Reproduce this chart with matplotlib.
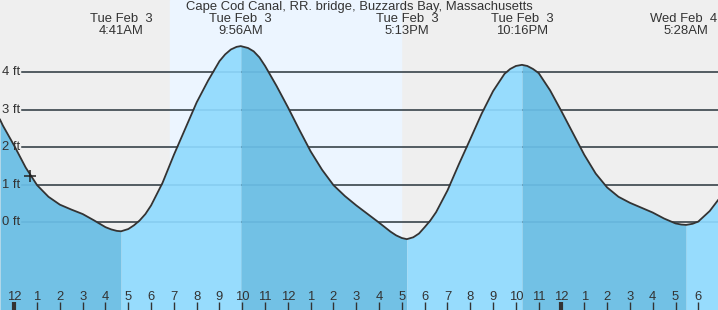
import numpy as np
import matplotlib.pyplot as plt

plt.rcParams['font.family'] = ['Liberation Sans', 'DejaVu Sans']

title = 'Cape Cod Canal, RR. bridge, Buzzards Bay, Massachusetts'

# tide height (ft), hours since midnight Tue Feb 3
tide_hours = [-0.627, -0.5, 0.0, 0.5, 1.0, 1.5, 2.0, 2.5, 3.0, 3.5, 4.0, 4.25, 4.5, 4.683,
              5.0, 5.25, 5.5, 5.75, 6.0, 6.5, 7.0, 7.5, 8.0, 8.5, 9.0, 9.25, 9.5, 9.75, 9.933,
              10.25, 10.5, 10.75, 11.0, 11.5, 12.0, 12.5, 13.0, 13.5, 14.0, 14.5, 15.0, 15.5,
              16.0, 16.5, 16.75, 17.0, 17.217,
              17.5, 17.75, 18.0, 18.25, 18.5, 19.0, 19.5, 20.0, 20.5, 21.0, 21.5, 21.75, 22.0,
              22.267,
              22.5, 22.75, 23.0, 23.5, 24.0, 24.5, 25.0, 25.5, 26.0, 26.5, 27.0, 27.5, 28.0,
              28.5, 29.0, 29.25, 29.467,
              29.75, 30.0, 30.5, 30.864]
tide_ft = [2.74, 2.58, 2.04, 1.46, 0.99, 0.68, 0.47, 0.34, 0.22, 0.05, -0.13, -0.19, -0.23, -0.24,
           -0.18, -0.08, 0.05, 0.22, 0.45, 1.05, 1.8, 2.5, 3.2, 3.78, 4.3, 4.48, 4.61, 4.68, 4.7,
           4.65, 4.56, 4.4, 4.17, 3.64, 3.07, 2.47, 1.89, 1.4, 0.99, 0.7, 0.45, 0.22,
           -0.01, -0.25, -0.35, -0.42, -0.45,
           -0.4, -0.3, -0.13, 0.05, 0.27, 0.85, 1.55, 2.22, 2.9, 3.5, 3.96, 4.09, 4.17,
           4.2,
           4.17, 4.09, 3.98, 3.52, 2.96, 2.38, 1.8, 1.3, 0.93, 0.68, 0.52, 0.39, 0.26,
           0.1, -0.03, -0.06, -0.07,
           -0.04, 0.02, 0.3, 0.59]

extreme_hours = [4.683, 9.933, 17.217, 22.267, 29.467]
extreme_day = ['Tue Feb  3', 'Tue Feb  3', 'Tue Feb  3', 'Tue Feb  3', 'Wed Feb  4']
extreme_time = ['4:41AM', '9:56AM', '5:13PM', '10:16PM', '5:28AM']

hour_ticks = list(range(0, 31))
hour_labels = ['12', '1', '2', '3', '4', '5', '6', '7', '8', '9', '10', '11'] * 2 + \
              ['12', '1', '2', '3', '4', '5', '6']

ft_levels = [0, 1, 2, 3, 4]
sunrise, sunset = 6.83, 16.96
now_hour, now_ft = 0.689, 1.24

t = np.array(tide_hours)
h = np.array(tide_ft)
x0, x1 = -0.627, 30.864
y0, y1 = -2.34, 5.93
fs = 9.4

fig = plt.figure(figsize=(7.18, 3.10), dpi=100)
ax = fig.add_axes([0, 0, 1, 1])
ax.set_xlim(x0, x1)
ax.set_ylim(y0, y1)
ax.axis('off')

ax.axvspan(x0, x1, color='#efefef', zorder=0)
ax.axvspan(sunrise, sunset, color='#ecf5ff', zorder=0.1)

# grid lines
gx = x0 + 22 / 718 * (x1 - x0)
for lv in ft_levels:
    ax.plot([gx, x1], [lv, lv], color='#333333', lw=1.1, zorder=1)
    ax.plot([gx, x1], [lv, lv], color='#1f6f9f', lw=1.1, alpha=0.15, zorder=3)
    ax.text(0.003, lv, f'{lv} ft', transform=ax.get_yaxis_transform(),
            ha='left', va='center', fontsize=fs, color='#333333', zorder=5)

# fills between extremes
bounds = [x0] + extreme_hours + [x1]
for a, b in zip(bounds[:-1], bounds[1:]):
    m = (t >= a - 1e-9) & (t <= b + 1e-9)
    rising = h[m][-1] > h[m][0]
    ax.fill_between(t[m], y0, h[m], color='#97dcfd' if rising else '#72c1e5',
                    lw=0, zorder=2)

ax.plot(t, h, color='#333333', lw=1.3, zorder=4, solid_joinstyle='round')
ax.plot(now_hour, now_ft, marker='+', ms=9, mew=1.1, color='#222222', zorder=6)

# top labels
ax.text(0.5, 1 - 7 / 310, title, transform=ax.transAxes, ha='center', va='center',
        fontsize=fs, color='#333333')
for xh, d, tm in zip(extreme_hours, extreme_day, extreme_time):
    xd, ha = xh, 'center'
    if xh > x1 - 1.6:
        # keep the last date inside the picture
        xd, ha = x1 - 0.05, 'right'
    ax.text(xd, 1 - 19 / 310, d, transform=ax.get_xaxis_transform(), ha=ha,
            va='center', fontsize=fs, color='#333333')
    ax.text(xh, 1 - 31 / 310, tm, transform=ax.get_xaxis_transform(), ha='center',
            va='center', fontsize=fs, color='#333333')

# bottom hour axis
for hr, lab in zip(hour_ticks, hour_labels):
    ax.text(hr, 13 / 310, lab, transform=ax.get_xaxis_transform(), ha='center',
            va='center', fontsize=fs, color='#333333', zorder=5)
    ax.vlines(hr, 0, 8 / 310, transform=ax.get_xaxis_transform(),
              color='#333333', lw=3 if hr % 24 == 0 else 1, zorder=5)

fig.savefig('out.png', dpi=100)
